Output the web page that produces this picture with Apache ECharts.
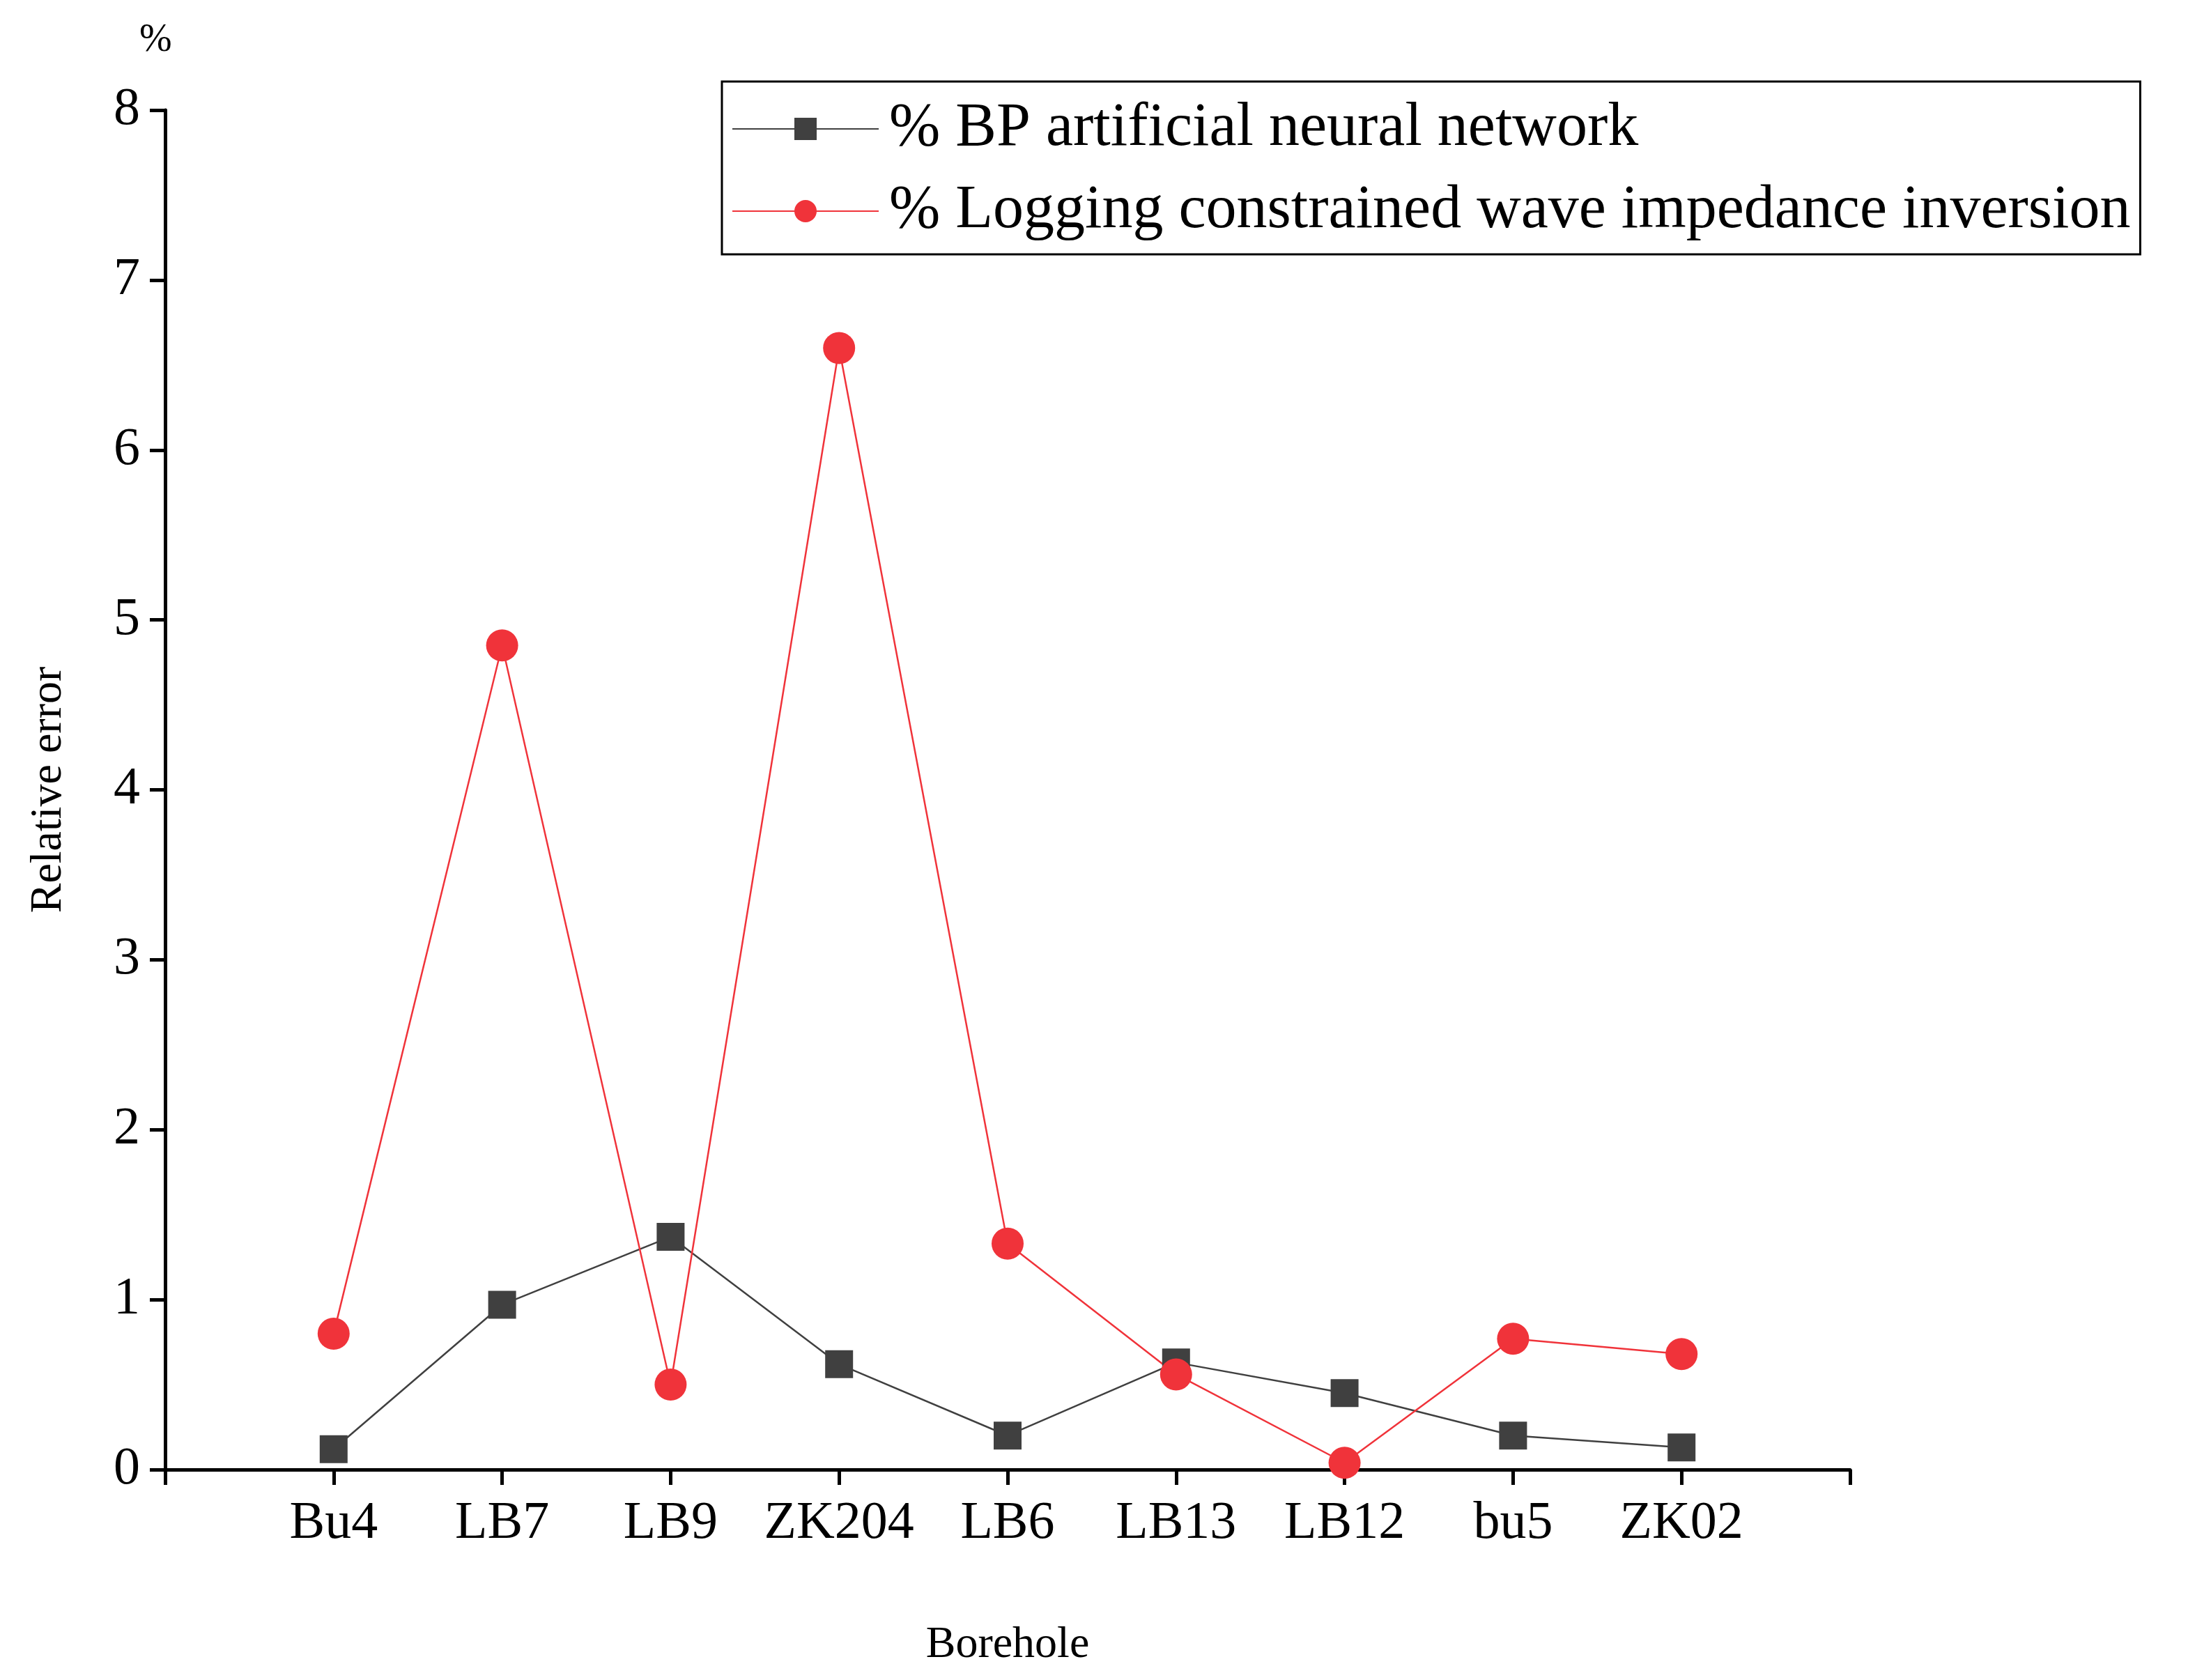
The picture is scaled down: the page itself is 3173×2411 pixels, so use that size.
<!DOCTYPE html>
<html><head><meta charset="utf-8">
<script src="https://cdn.jsdelivr.net/npm/echarts@6/dist/echarts.min.js"></script>
<style>html,body{margin:0;padding:0;background:#fff}#c{width:3173px;height:2411px}</style>
</head><body><div id="c"></div>
<script>
const categories = ['Bu4','LB7','LB9','ZK204','LB6','LB13','LB12','bu5','ZK02'];
const bpValues = [0.12,0.97,1.37,0.62,0.20,0.63,0.45,0.20,0.13];
const logValues = [0.80,4.85,0.50,6.60,1.33,0.56,0.04,0.77,0.68];
const yTicks = [0,1,2,3,4,5,6,7,8];
const font = 'Liberation Serif';
const chart = echarts.init(document.getElementById('c'));
chart.setOption({
  backgroundColor:'#fff',
  textStyle:{fontFamily:font},
  grid:{left:237,right:3173-2655,top:158,bottom:2411-2109},
  xAxis:{type:'value',min:0,max:10,interval:1,
    name:'Borehole',nameLocation:'middle',nameGap:220,
    nameTextStyle:{fontFamily:font,fontSize:64,color:'#000'},
    axisLine:{lineStyle:{color:'#000',width:5}},
    axisTick:{inside:false,length:22,lineStyle:{color:'#000',width:5}},
    axisLabel:{fontFamily:font,fontSize:76,color:'#000',margin:40,
      formatter:v=>categories[v-1]||''},
    splitLine:{show:false}},
  yAxis:{type:'value',min:0,max:8,interval:1,
    name:'Relative error',nameLocation:'middle',nameGap:135,
    nameTextStyle:{fontFamily:font,fontSize:64,color:'#000'},
    axisLine:{show:true,lineStyle:{color:'#000',width:5}},
    axisTick:{show:true,length:22,lineStyle:{color:'#000',width:5}},
    axisLabel:{fontFamily:font,fontSize:76,color:'#000',margin:36,
      formatter:v=>yTicks.includes(v)?String(v):''},
    splitLine:{show:false}},
  legend:{orient:'vertical',left:1036,top:117,
    borderColor:'#000',borderWidth:3,padding:[24,14,18,14],itemGap:30,
    itemWidth:210,itemHeight:40,
    textStyle:{fontFamily:font,fontSize:88,color:'#000',padding:[0,0,0,10]},
    data:['% BP artificial neural network','% Logging constrained wave impedance inversion']},
  graphic:[{type:'text',left:200,top:30,style:{text:'%',font:'56px "Liberation Serif"',fill:'#000'}}],
  series:[
    {name:'% BP artificial neural network',type:'line',
      data:bpValues.map((v,i)=>[i+1,v]),symbol:'rect',symbolSize:40,
      itemStyle:{color:'#404040'},lineStyle:{color:'#404040',width:2.5}},
    {name:'% Logging constrained wave impedance inversion',type:'line',
      data:logValues.map((v,i)=>[i+1,v]),symbol:'circle',symbolSize:46,
      itemStyle:{color:'#f0333a'},lineStyle:{color:'#f0333a',width:2.5}}
  ]
});
</script></body></html>
